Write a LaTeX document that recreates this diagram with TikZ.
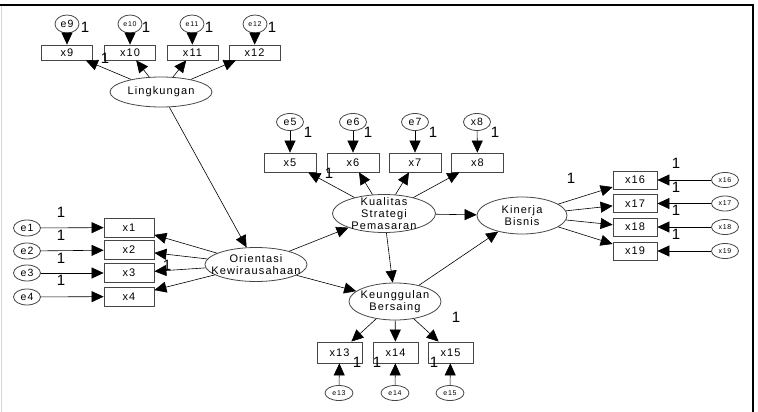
\documentclass[tikz,border=0pt]{standalone}
\usepackage{fontspec}
\setmainfont[LetterSpace=10]{Liberation Sans}
\usepackage{tikz}
\usetikzlibrary{shapes.geometric, arrows.meta}
\definecolor{boxline}{RGB}{70, 70, 70}
\definecolor{frameleft}{RGB}{215, 215, 215}

\begin{document}
\begin{tikzpicture}[x=1pt, y=-1pt,
				obs/.style={rectangle, draw=boxline, thick, inner sep=0pt, minimum width=51pt, minimum height=15pt, font=\fontsize{11}{11}\selectfont},
				lat/.style={ellipse, draw=boxline, thick, inner xsep=-40pt, inner ysep=-20pt, minimum width=102pt, minimum height=34pt, align=center, font=\fontsize{11}{12}\selectfont},
				err/.style={ellipse, draw=boxline, thick, inner sep=0pt, minimum width=27pt, minimum height=16pt, font=\fontsize{10.5}{10.5}\selectfont},
				errs/.style={err, minimum width=27pt, minimum height=15pt, font=\fontsize{7}{7}\selectfont},
				one/.style={inner sep=0pt, font=\fontsize{15}{15}\selectfont},
				arrow/.style={-{Triangle[length=12pt, width=11pt]}, line width=0.6pt}
				]
				\useasboundingbox (0,0) rectangle (758,412);
				% Frame
				\draw[frameleft, line width=1pt] (1.5,5) -- (1.5,412);
				\draw[line width=1.3pt] (0,5) -- (753,5) -- (753,412);
				
				% Lingkungan with x9..x12
				\node[errs, minimum width=24pt, minimum height=18pt, font=\fontsize{10.5}{10.5}\selectfont] (e9) at (67, 24) {e9};
				\node[errs, minimum width=24pt, minimum height=18pt] (e10) at (130, 24) {e10};
				\node[errs, minimum width=24pt, minimum height=18pt] (e11) at (192, 24) {e11};
				\node[errs, minimum width=24pt, minimum height=18pt] (e12) at (255, 24) {e12};
				\node[obs] (x9) at (67, 52.5) {x9};
				\node[obs] (x10) at (130, 52.5) {x10};
				\node[obs] (x11) at (192.5, 52.5) {x11};
				\node[obs] (x12) at (254.5, 52.5) {x12};
				\node[lat, minimum height=30pt] (ling) at (161, 92) {Lingkungan};
				
				% Kualitas Strategi Pemasaran with x5..x8
				\node[err, minimum height=17pt] (e5) at (290, 122) {e5};
				\node[err, minimum height=17pt] (e6) at (353, 122) {e6};
				\node[err, minimum height=17pt] (e7) at (415, 122) {e7};
				\node[err, minimum height=17pt] (e8) at (477, 122) {x8};
				\node[obs, minimum width=52pt, minimum height=19pt] (x5) at (290, 162.5) {x5};
				\node[obs, minimum width=52pt, minimum height=19pt] (x6) at (353, 162.5) {x6};
				\node[obs, minimum width=52pt, minimum height=19pt] (x7) at (415, 162.5) {x7};
				\node[obs, minimum width=52pt, minimum height=19pt] (x8) at (477.5, 162.5) {x8};
				\node[lat, minimum width=103pt, minimum height=38pt] (kual) at (384, 213.5) {Kualitas\\Strategi\\Pemasaran};
				
				% Orientasi Kewirausahaan with x1..x4
				\node[err] (e1) at (27, 228) {e1};
				\node[err] (e2) at (27, 251) {e2};
				\node[err] (e3) at (27, 273) {e3};
				\node[err] (e4) at (27, 297) {e4};
				\node[obs, minimum width=50pt, minimum height=19pt] (x1) at (129, 227.5) {x1};
				\node[obs, minimum width=50pt, minimum height=19pt] (x2) at (129, 250) {x2};
				\node[obs, minimum width=50pt, minimum height=19pt] (x3) at (129, 273) {x3};
				\node[obs, minimum width=50pt, minimum height=19pt] (x4) at (129, 296.5) {x4};
				\node[lat] (orient) at (256, 264.5) {Orientasi\\Kewirausahaan};
				
				% Keunggulan Bersaing with x13..x15
				\node[lat, minimum width=92pt, minimum height=37pt] (keung) at (395, 301.5) {Keunggulan\\Bersaing};
				\node[obs, minimum width=45pt, minimum height=21pt] (x13) at (339.5, 352.5) {x13};
				\node[obs, minimum width=45pt, minimum height=21pt] (x14) at (395.5, 352.5) {x14};
				\node[obs, minimum width=45pt, minimum height=21pt] (x15) at (450.5, 352.5) {x15};
				\node[errs, minimum width=28pt] (e13) at (339, 393) {e13};
				\node[errs, minimum width=28pt] (e14) at (395, 393) {e14};
				\node[errs, minimum width=28pt] (e15) at (450, 393) {e15};
				
				% Kinerja Bisnis with x16..x19
				\node[lat, minimum width=90pt, minimum height=37pt] (kin) at (522, 215.5) {Kinerja\\Bisnis};
				\node[obs, minimum width=44pt, minimum height=18pt] (x16) at (635, 180) {x16};
				\node[obs, minimum width=44pt, minimum height=18pt] (x17) at (635, 203.5) {x17};
				\node[obs, minimum width=44pt, minimum height=18pt] (x18) at (635, 227) {x18};
				\node[obs, minimum width=44pt, minimum height=18pt] (x19) at (635, 251) {x19};
				\node[errs] (r16) at (725, 180) {x16};
				\node[errs] (r17) at (725, 203.5) {x17};
				\node[errs] (r18) at (725, 227) {x18};
				\node[errs] (r19) at (725, 251) {x19};
				
				% Fixed weights
				\node[one] (w9) at (85, 27) {1};
				\node[one] (w10) at (146, 27) {1};
				\node[one] (w11) at (209, 27) {1};
				\node[one] (w12) at (272, 27) {1};
				\node[one] (wl) at (105, 58) {1};
				\node[one] (w5) at (308, 132) {1};
				\node[one] (w6) at (368, 132) {1};
				\node[one] (w7) at (433, 132) {1};
				\node[one] (w8) at (495, 132) {1};
				\node[one] (wk) at (329, 173) {1};
				\node[one] (w1) at (61, 212) {1};
				\node[one] (w2) at (61, 235) {1};
				\node[one] (w3) at (61, 258) {1};
				\node[one] (w4) at (61, 280) {1};
				\node[one] (wo) at (167, 265) {1};
				\node[one] (w13) at (357, 362) {1};
				\node[one] (w14) at (377, 362) {1};
				\node[one] (w15) at (434, 362) {1};
				\node[one] (wb) at (456, 317) {1};
				\node[one] (w16) at (676, 163) {1};
				\node[one] (w17) at (676, 187) {1};
				\node[one] (w18) at (676, 210) {1};
				\node[one] (w19) at (676, 234) {1};
				\node[one] (wn) at (571, 178) {1};
				
				% Error arrows
				\draw[arrow] (e9) -- (x9);
				\draw[arrow] (e10) -- (x10);
				\draw[arrow] (e11) -- (x11);
				\draw[arrow] (e12) -- (x12);
				\draw[arrow] (e5) -- (x5);
				\draw[arrow] (e6) -- (x6);
				\draw[arrow] (e7) -- (x7);
				\draw[arrow] (e8) -- (x8);
				\draw[arrow] (e1) -- (x1);
				\draw[arrow] (e2) -- (x2);
				\draw[arrow] (e3) -- (x3);
				\draw[arrow] (e4) -- (x4);
				\draw[arrow] (e13) -- (x13);
				\draw[arrow] (e14) -- (x14);
				\draw[arrow] (e15) -- (x15);
				\draw[arrow] (r16) -- (x16);
				\draw[arrow] (r17) -- (x17);
				\draw[arrow] (r18) -- (x18);
				\draw[arrow] (r19) -- (x19);
				
				% Loadings
				\draw[arrow] (ling) -- (x9);
				\draw[arrow] (ling) -- (x10);
				\draw[arrow] (ling) -- (x11);
				\draw[arrow] (ling) -- (x12);
				\draw[arrow] (kual) -- (x5);
				\draw[arrow] (kual) -- (x6);
				\draw[arrow] (kual) -- (x7);
				\draw[arrow] (kual) -- (x8);
				\draw[arrow] (orient) -- (x1);
				\draw[arrow] (orient) -- (x2);
				\draw[arrow] (orient) -- (x3);
				\draw[arrow] (orient) -- (x4);
				\draw[arrow] (keung) -- (x13);
				\draw[arrow] (keung) -- (x14);
				\draw[arrow] (keung) -- (x15);
				\draw[arrow] (kin) -- (x16);
				\draw[arrow] (kin) -- (x17);
				\draw[arrow] (kin) -- (x18);
				\draw[arrow] (kin) -- (x19);
				
				% Structural paths
				\draw[arrow] (ling) -- (orient);
				\draw[arrow] (orient) -- (kual);
				\draw[arrow] (orient) -- (keung);
				\draw[arrow] (kual) -- (kin);
				\draw[arrow] (kual) -- (keung);
				\draw[arrow] (keung) -- (kin);
			\end{tikzpicture}
\end{document}
